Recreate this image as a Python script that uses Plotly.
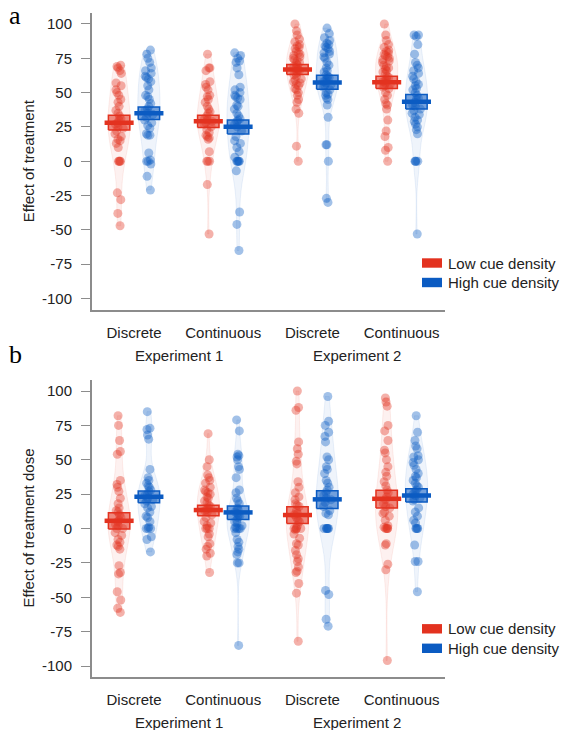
import plotly.graph_objects as go

# ---------------- data ----------------
conditions = ["Discrete", "Continuous", "Discrete", "Continuous"]
experiments = ["Experiment 1", "Experiment 2"]
densities = ["Low cue density", "High cue density"]
y_tick_values = [-100, -75, -50, -25, 0, 25, 50, 75, 100]
y_tick_labels = ["-100", "-75", "-50", "-25", "0", "25", "50", "75", "100"]
panel_titles = ["Effect of treatment", "Effect of treatment dose"]
panel_letters = ["a", "b"]

# Panel a – individual effects
a_low_e1_disc = [70, 69, 68, 66, 64, 57, 55, 52, 50, 48, 45, 43, 40, 37, 35, 33, 31, 30, 28, 27,
                 25, 24, 22, 20, 18, 16, 15, 13, 10, 0, 0, 0, 0, -23, -28, -38, -47]
a_high_e1_disc = [81, 78, 75, 72, 68, 66, 64, 62, 61, 60, 58, 55, 52, 48, 47, 45, 42, 40, 38, 37,
                  35, 34, 32, 30, 28, 26, 24, 20, 19, 19, 6, 1, 0, 0, -2, -11, -21]
a_low_e1_cont = [78, 68, 68, 66, 58, 56, 54, 52, 48, 47, 45, 43, 40, 38, 36, 35, 33, 31, 30, 29,
                 28, 27, 25, 23, 21, 19, 18, 17, 16, 7, 0, 0, 0, -17, -53]
a_high_e1_cont = [79, 77, 75, 73, 72, 68, 63, 54, 52, 50, 48, 47, 46, 45, 41, 40, 38, 35, 33, 31,
                  30, 29, 27, 25, 22, 18, 15, 13, 10, 7, 3, 0, 0, 0, 0, 0, -7, -37, -46, -65]
a_low_e2_disc = [100, 95, 92, 89, 87, 85, 84, 83, 82, 80, 79, 78, 77, 76, 75, 74, 73, 72, 71, 70,
                 69, 68, 67, 66, 65, 64, 63, 62, 60, 59, 58, 57, 56, 55, 53, 52, 50, 48, 45, 43,
                 38, 35, 11, 0]
a_high_e2_disc = [97, 93, 90, 88, 86, 85, 84, 83, 82, 80, 79, 78, 76, 75, 72, 70, 68, 66, 65, 63,
                  62, 61, 60, 59, 58, 57, 56, 55, 54, 52, 50, 49, 48, 46, 45, 41, 32, 12, 12, 0,
                  -27, -30]
a_low_e2_cont = [100, 92, 88, 85, 83, 81, 80, 79, 78, 77, 76, 75, 74, 73, 72, 70, 69, 68, 67, 66,
                 65, 64, 62, 61, 60, 59, 58, 57, 56, 55, 54, 53, 50, 48, 45, 42, 41, 38, 30, 22,
                 18, 10, 8, 0]
a_high_e2_cont = [92, 92, 91, 85, 78, 72, 70, 68, 66, 64, 62, 60, 58, 56, 55, 53, 52, 50, 48, 46,
                  45, 43, 41, 40, 38, 37, 35, 34, 32, 30, 29, 27, 25, 23, 20, 0, 0, 0, 0, -53]

# Panel b – dose effects
b_low_e1_disc = [82, 75, 64, 56, 54, 35, 32, 30, 27, 22, 18, 15, 13, 12, 10, 8, 6, 5, 3, 2,
                 0, 0, -3, -5, -8, -10, -12, -13, -15, -27, -32, -33, -46, -52, -58, -61]
b_high_e1_disc = [85, 73, 72, 68, 65, 43, 37, 35, 33, 31, 30, 28, 27, 25, 24, 22, 21, 20, 18, 16,
                  15, 12, 9, 8, 5, 1, 0, 0, 0, -6, -8, -17]
b_low_e1_cont = [69, 50, 45, 39, 37, 35, 33, 30, 28, 27, 26, 25, 23, 22, 20, 19, 17, 16, 15, 14,
                 13, 12, 10, 8, 5, 4, 2, 0, 0, 0, -4, -6, -11, -13, -15, -18, -20, -32]
b_high_e1_cont = [79, 71, 54, 53, 52, 50, 45, 43, 37, 28, 26, 22, 20, 18, 15, 14, 12, 11, 10, 9,
                  8, 6, 5, 4, 2, 1, 0, 0, 0, 0, -3, -8, -10, -13, -15, -17, -19, -25, -25, -85]
b_low_e2_disc = [100, 88, 86, 63, 58, 54, 49, 47, 34, 30, 26, 23, 21, 18, 17, 16, 13, 11, 10, 8,
                 6, 5, 2, 0, 0, 0, 0, -1, -4, -7, -11, -12, -16, -19, -22, -24, -28, -31, -32,
                 -40, -47, -82]
b_high_e2_disc = [96, 78, 75, 70, 67, 63, 52, 50, 45, 43, 40, 35, 33, 30, 28, 26, 24, 22, 21, 19,
                  16, 13, 11, 10, 0, 0, 0, 0, 0, 0, -45, -48, -66, -71]
b_low_e2_cont = [95, 92, 89, 75, 71, 64, 57, 55, 50, 45, 41, 38, 34, 31, 28, 26, 23, 21, 18, 16,
                 15, 12, 11, 9, 6, 2, 1, 0, 0, 0, 0, -11, -12, -26, -30, -96]
b_high_e2_cont = [82, 70, 64, 60, 58, 53, 52, 50, 48, 46, 43, 40, 38, 37, 35, 33, 31, 30, 28, 27,
                  25, 24, 22, 21, 20, 15, 12, 9, 6, 4, 0, 0, 0, 0, -12, -24, -24, -46]

# group means and interval bounds (order: E1 Discrete, E1 Continuous, E2 Discrete, E2 Continuous)
a_low_means = [28.0, 29.2, 66.8, 57.6]
a_low_ci_lo = [22.7, 24.6, 63.2, 53.0]
a_low_ci_hi = [33.6, 33.6, 70.5, 62.0]
a_high_means = [35.0, 25.1, 57.4, 43.3]
a_high_ci_lo = [30.5, 19.8, 52.5, 38.0]
a_high_ci_hi = [39.6, 30.0, 62.7, 48.6]
b_low_means = [5.6, 13.4, 9.8, 21.6]
b_low_ci_lo = [-0.4, 9.3, 3.7, 15.0]
b_low_ci_hi = [11.4, 17.0, 15.8, 27.9]
b_high_means = [23.1, 11.7, 21.2, 24.0]
b_high_ci_lo = [18.7, 6.6, 14.6, 19.2]
b_high_ci_hi = [27.2, 16.3, 27.4, 28.9]

# ---------------- style ----------------
RED = (227, 50, 31)
BLUE = (11, 91, 194)
AXIS_GRAY = "#8c8c8c"
TEXT = "#222222"
FONT = "Liberation Sans, Arial, sans-serif"
SERIF = "Liberation Serif, Times New Roman, serif"


def rgba(c, a):
    return f"rgba({c[0]},{c[1]},{c[2]},{a})"


W, H = 563, 730
# plot-area edges in page pixels
PL, PR, PT, PB = 92, 445, 13, 677


def px_x(px):
    return (px - PL) / (PR - PL)


def px_y(py):
    return (PB - py) / (PB - PT)


OFFSET = 0.167
BOX_HW = 0.12
MEAN_HW = 0.163
VIOLIN_W = 0.25

panels = [
    dict(xa="x", ya="y",
         low=[a_low_e1_disc, a_low_e1_cont, a_low_e2_disc, a_low_e2_cont],
         high=[a_high_e1_disc, a_high_e1_cont, a_high_e2_disc, a_high_e2_cont],
         low_stats=(a_low_means, a_low_ci_lo, a_low_ci_hi),
         high_stats=(a_high_means, a_high_ci_lo, a_high_ci_hi)),
    dict(xa="x2", ya="y2",
         low=[b_low_e1_disc, b_low_e1_cont, b_low_e2_disc, b_low_e2_cont],
         high=[b_high_e1_disc, b_high_e1_cont, b_high_e2_disc, b_high_e2_cont],
         low_stats=(b_low_means, b_low_ci_lo, b_low_ci_hi),
         high_stats=(b_high_means, b_high_ci_lo, b_high_ci_hi)),
]

fig = go.Figure()

for p in panels:
    for off, color, samples, stats in [(-OFFSET, RED, p["low"], p["low_stats"]),
                                       (OFFSET, BLUE, p["high"], p["high_stats"])]:
        for k, vals in enumerate(samples):
            fig.add_trace(go.Violin(
                x0=k + 1 + off, y=vals, xaxis=p["xa"], yaxis=p["ya"],
                width=VIOLIN_W, spanmode="hard",
                points="all", jitter=0.4, pointpos=0,
                fillcolor=rgba(color, 0.065),
                line=dict(color=rgba(color, 0.08), width=1),
                marker=dict(color=rgba(color, 0.38), size=9, line=dict(width=0)),
                showlegend=False, hoverinfo="skip",
            ))
        means, lo, hi = stats
        bx, by, mx, my = [], [], [], []
        for k in range(len(means)):
            c = k + 1 + off
            bx += [c - BOX_HW, c + BOX_HW, c + BOX_HW, c - BOX_HW, c - BOX_HW, None]
            by += [lo[k], lo[k], hi[k], hi[k], lo[k], None]
            mx += [c - MEAN_HW, c + MEAN_HW, None]
            my += [means[k], means[k], None]
        fig.add_trace(go.Scatter(
            x=bx, y=by, xaxis=p["xa"], yaxis=p["ya"], mode="lines", fill="toself",
            fillcolor=rgba(color, 0.55), line=dict(color=rgba(color, 1), width=1.5),
            showlegend=False, hoverinfo="skip"))
        fig.add_trace(go.Scatter(
            x=mx, y=my, xaxis=p["xa"], yaxis=p["ya"], mode="lines",
            line=dict(color=rgba(color, 1), width=4.5),
            showlegend=False, hoverinfo="skip"))

x_common = dict(type="linear", range=[0.529, 4.487], showline=True, linecolor=AXIS_GRAY,
                linewidth=2, ticks="", tickvals=[1, 2, 3, 4], ticktext=conditions,
                tickfont=dict(size=15, color=TEXT), showgrid=False, zeroline=False,
                ticklabelstandoff=8, fixedrange=True)
y_common = dict(range=[-108, 108], showline=True, linecolor=AXIS_GRAY, linewidth=2,
                ticks="outside", ticklen=9, tickwidth=1.3, tickcolor=AXIS_GRAY,
                tickvals=y_tick_values, ticktext=y_tick_labels,
                tickfont=dict(size=15, color=TEXT), showgrid=False, zeroline=False,
                ticklabelstandoff=6, fixedrange=True)

dom_a = [px_y(309.5), 1]
dom_b = [0, px_y(380)]

fig.update_layout(
    width=W, height=H,
    margin=dict(l=PL, r=W - PR, t=PT, b=H - PB, pad=0),
    paper_bgcolor="white", plot_bgcolor="white",
    font=dict(family=FONT, size=15, color=TEXT),
    showlegend=False,
    xaxis=dict(**x_common, anchor="y", domain=[0, 1]),
    yaxis=dict(**y_common, anchor="x", domain=dom_a),
    xaxis2=dict(**x_common, anchor="y2", domain=[0, 1]),
    yaxis2=dict(**y_common, anchor="x2", domain=dom_b),
)

annotations = []
shapes = []
for i, (ya, title, letter, leg_y, letter_top) in enumerate([
        ("y", panel_titles[0], panel_letters[0], (263, 282.5), 0),
        ("y2", panel_titles[1], panel_letters[1], (628.8, 648.3), 339)]):
    # experiment labels
    for j, exp in enumerate(experiments):
        annotations.append(dict(text=exp, x=1.5 + 2 * j, xref="x" if i == 0 else "x2",
                                y=0, yref=f"{ya} domain", yanchor="middle", yshift=-45.5,
                                showarrow=False, font=dict(size=15, color=TEXT)))
    # y title
    annotations.append(dict(text=title, x=px_x(28), xref="paper", y=0.5,
                            yref=f"{ya} domain", textangle=-90, showarrow=False,
                            xanchor="center", yanchor="middle",
                            font=dict(size=15, color=TEXT)))
    # panel letter
    annotations.append(dict(text=letter, x=px_x(15), xref="paper", y=px_y(letter_top),
                            yref="paper", showarrow=False, xanchor="center",
                            yanchor="top", borderpad=0,
                            font=dict(size=26, color="black", family=SERIF)))
    # legend
    for color, name, cy in [(RED, densities[0], leg_y[0]), (BLUE, densities[1], leg_y[1])]:
        shapes.append(dict(type="rect", xref="paper", yref="paper",
                           x0=px_x(422), x1=px_x(442), y0=px_y(cy + 4.7), y1=px_y(cy - 4.7),
                           fillcolor=rgba(color, 1), line=dict(width=0)))
        annotations.append(dict(text=name, x=px_x(446), xref="paper", y=px_y(cy),
                                yref="paper", xanchor="left", yanchor="middle",
                                showarrow=False, font=dict(size=15, color=TEXT)))

fig.update_layout(annotations=annotations, shapes=shapes)
fig.write_html(
    "out.html",
    config={"displayModeBar": False},
    post_script="document.body.style.margin='0';"
                "document.documentElement.style.overflow='hidden';",
)
